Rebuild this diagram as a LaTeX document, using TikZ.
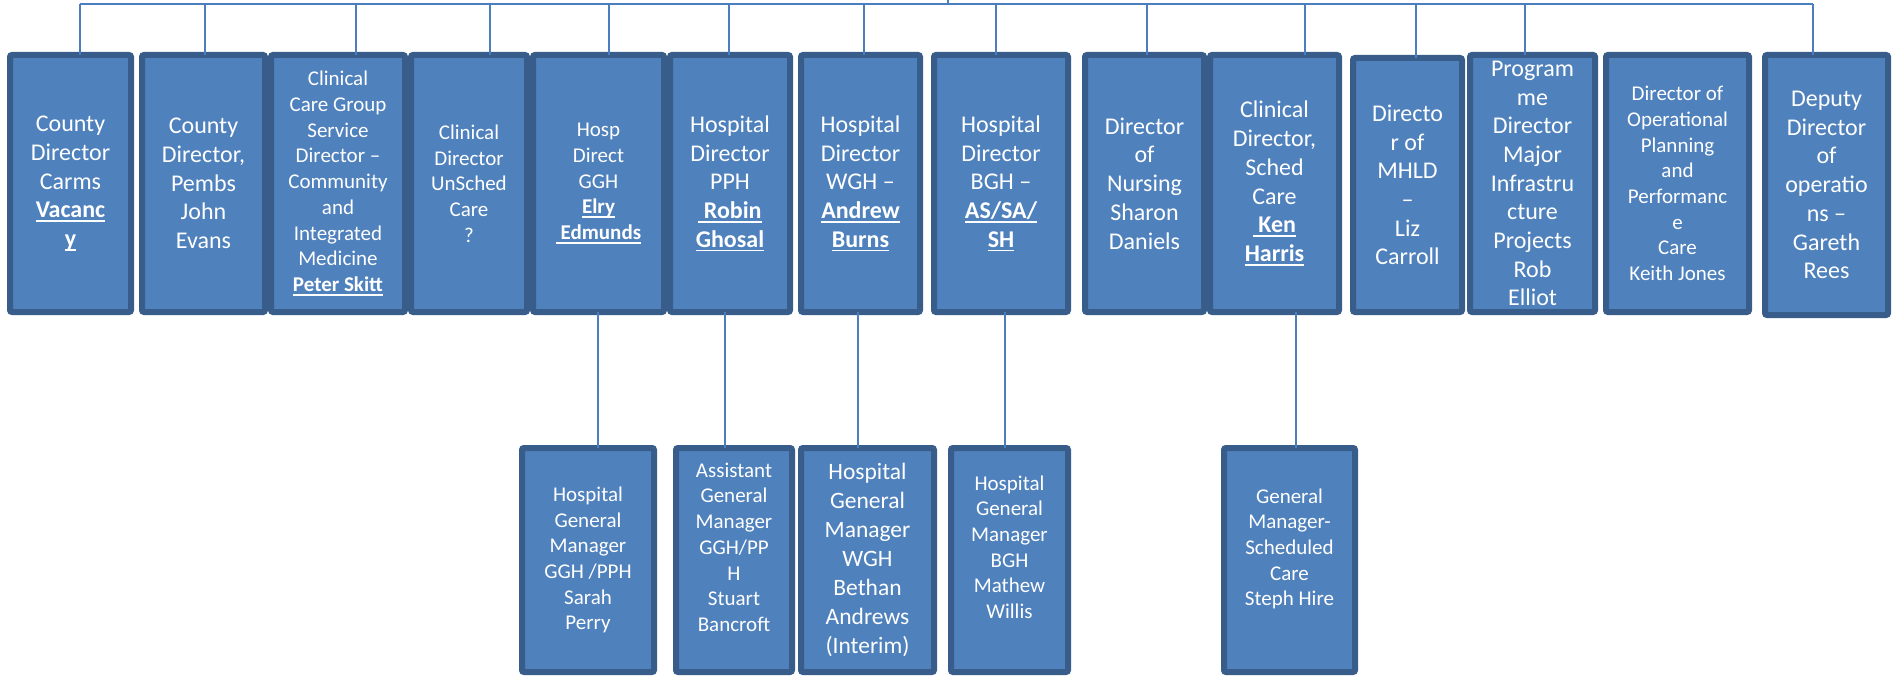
\documentclass[tikz,border=0pt]{standalone}
\usepackage{fontspec}
\setmainfont{Carlito}
\definecolor{boxfill}{RGB}{79,129,189}
\definecolor{boxline}{RGB}{56,93,138}
\definecolor{connc}{RGB}{74,126,190}
\newcommand{\nm}[1]{{\bfseries\setbox0\hbox{#1}\rlap{\rule[-4.2pt]{\wd0}{1.7pt}}\box0}}
\begin{document}
\begin{tikzpicture}[x=1pt,y=-1pt,
  box/.style={draw=boxline, fill=boxfill, line width=6pt, rounded corners=2pt, inner sep=0pt, outer sep=0pt, text=white, align=center},
  big/.style={font=\fontsize{24}{28.7}\selectfont},
  small/.style={font=\fontsize{21}{25.7}\selectfont},
  midf/.style={font=\fontsize{23.5}{29}\selectfont},
  link/.style={draw=connc, line width=2.5pt}]
\useasboundingbox (0,0) rectangle (1892,677);
% top row
\node[box,big,minimum width=121,minimum height=257] (b1) at (70.5,183.5) {County\\Director\\Carms\\\nm{Vacanc}\\\nm{y}};
\node[box,big,minimum width=123,minimum height=257] (b2) at (203.5,183.5) {County\\Director,\\Pembs\\John\\Evans};
\node[box,small,minimum width=134,minimum height=257] (b3) at (338,183.5) {Clinical\\Care Group\\Service\\Director –\\Community\\and\\Integrated\\Medicine\\\nm{Peter Skitt}};
\node[box,small,minimum width=116,minimum height=257] (b4) at (469,183.5) {Clinical\\Director\\UnSched\\Care\\?};
\node[box,small,minimum width=131,minimum height=257] (b5) at (598.5,183.5) {Hosp\\Direct\\GGH\\\nm{Elry}\\\nm{~Edmunds}};
\node[box,big,minimum width=120,minimum height=257] (b6) at (730,183.5) {Hospital\\Director\\PPH\\\nm{~Robin}\\\nm{Ghosal}};
\node[box,big,minimum width=119,minimum height=257] (b7) at (860.5,183.5) {Hospital\\Director\\WGH –\\\nm{Andrew}\\\nm{Burns}};
\node[box,big,minimum width=134,minimum height=257] (b8) at (1001,183.5) {Hospital\\Director\\BGH –\\\nm{AS/SA/}\\\nm{SH}};
\node[box,big,minimum width=119,minimum height=257] (b9) at (1144.5,183.5) {Director\\of\\Nursing\\Sharon\\Daniels};
\node[box,big,minimum width=129,minimum height=257] (b10) at (1274.5,183.5) {Clinical\\Director,\\Sched\\Care\\\nm{~Ken}\\\nm{Harris}};
\node[box,big,minimum width=109,minimum height=254] (b11) at (1407.5,185) {Directo\\r of\\MHLD\\–\\Liz\\Carroll};
\node[box,big,minimum width=125,minimum height=257] (b12) at (1532.5,183.5) {Program\\me\\Director\\Major\\Infrastru\\cture\\Projects\\Rob\\Elliot};
\node[box,small,minimum width=143,minimum height=257] (b13) at (1677.5,183.5) {Director of\\Operational\\Planning\\and\\Performanc\\e\\Care\\Keith Jones};
\node[box,big,minimum width=123,minimum height=260] (b14) at (1826.5,185) {Deputy\\Director\\of\\operatio\\ns –\\Gareth\\Rees};
% second row
\node[box,small,minimum width=132,minimum height=224] (ra) at (588,560) {Hospital\\General\\Manager\\GGH /PPH\\Sarah\\Perry};
\node[box,small,minimum width=116,minimum height=224] (rb) at (734,560) {Assistant\\General\\Manager\\GGH/PP\\H\\Stuart\\Bancroft\\\mbox{}};
\node[box,midf,minimum width=133,minimum height=224] (rc) at (867.5,560) {Hospital\\General\\Manager\\WGH\\Bethan\\Andrews\\(Interim)};
\node[box,small,minimum width=117,minimum height=224] (rd) at (1009.5,560) {Hospital\\General\\Manager\\BGH\\Mathew\\Willis\\\mbox{}};
\node[box,small,minimum width=131,minimum height=224] (re) at (1289.5,560) {General\\Manager-\\Scheduled\\Care\\Steph Hire\\\mbox{}};
% top bar
\coordinate (up) at (948,0);
\coordinate (mid) at (948,4);
\coordinate (t1) at (80,4);
\coordinate (t2) at (205,4);
\coordinate (t3) at (356,4);
\coordinate (t4) at (490,4);
\coordinate (t5) at (609,4);
\coordinate (t6) at (729,4);
\coordinate (t7) at (864,4);
\coordinate (t8) at (996,4);
\coordinate (t9) at (1147,4);
\coordinate (t10) at (1305,4);
\coordinate (t11) at (1416,4);
\coordinate (t12) at (1525,4);
\coordinate (t14) at (1813,4);
\draw[link] (t1) -- (t14);
\draw[link] (up) -- (mid);
\draw[link] (t1) -- (t1 |- b1.north);
\draw[link] (t2) -- (t2 |- b2.north);
\draw[link] (t3) -- (t3 |- b3.north);
\draw[link] (t4) -- (t4 |- b4.north);
\draw[link] (t5) -- (t5 |- b5.north);
\draw[link] (t6) -- (t6 |- b6.north);
\draw[link] (t7) -- (t7 |- b7.north);
\draw[link] (t8) -- (t8 |- b8.north);
\draw[link] (t9) -- (t9 |- b9.north);
\draw[link] (t10) -- (t10 |- b10.north);
\draw[link] (t11) -- (t11 |- b11.north);
\draw[link] (t12) -- (t12 |- b12.north);
\draw[link] (t14) -- (t14 |- b14.north);
% second-level links
\coordinate (l1) at (598,0);
\coordinate (l2) at (725,0);
\coordinate (l3) at (858,0);
\coordinate (l4) at (1005,0);
\coordinate (l5) at (1296,0);
\draw[link] (b5.south -| l1) -- (ra.north -| l1);
\draw[link] (b6.south -| l2) -- (rb.north -| l2);
\draw[link] (b7.south -| l3) -- (rc.north -| l3);
\draw[link] (b8.south -| l4) -- (rd.north -| l4);
\draw[link] (b10.south -| l5) -- (re.north -| l5);
\end{tikzpicture}
\end{document}
